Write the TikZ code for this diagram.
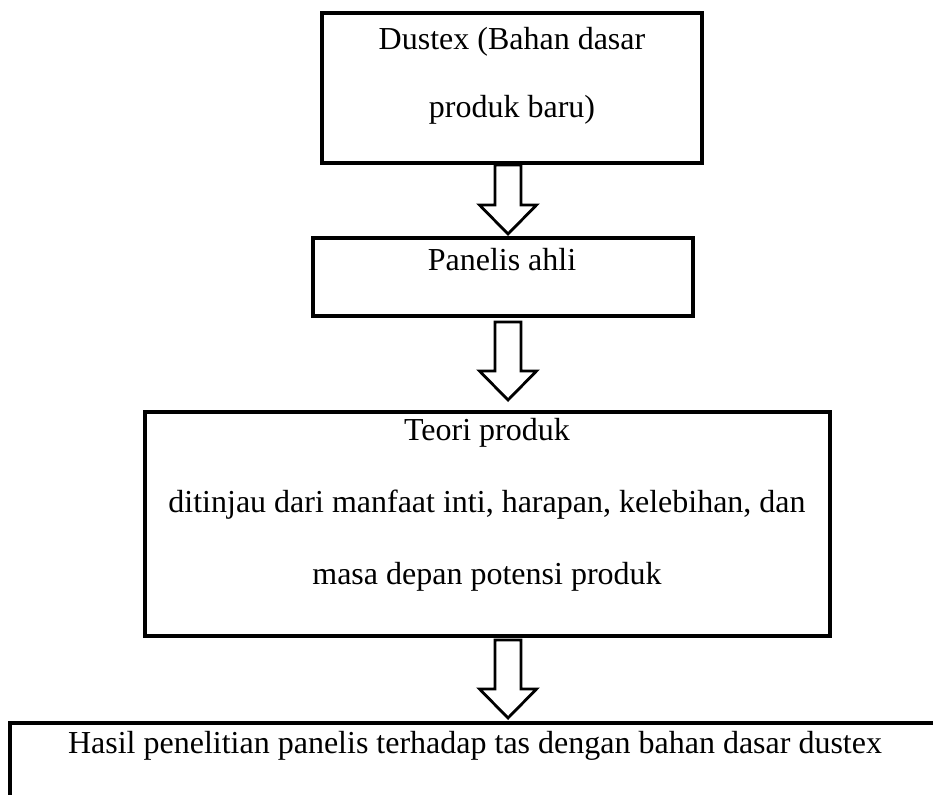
\documentclass[tikz,border=0pt]{standalone}
\usepackage{fontspec}
\setmainfont{Liberation Serif}
\usetikzlibrary{calc}

% hollow block arrow going down from a node
\newcommand{\hollowarrow}[3]{%
    \draw[arrowline] (#1.south -| axis) ++(-13,#2) -- ++(0,#3) -- ++(-15.5,0) -- ++(28.5,29) -- ++(28.5,-29) -- ++(-15.5,0) -- ++(0,-#3) -- cycle;
}

\begin{document}
\begin{tikzpicture}[x=1pt,y=-1pt,
    box/.style={draw,line width=4pt,inner sep=0pt},
    txt/.style={anchor=base,align=center,inner sep=0pt},
    arrowline/.style={line width=2.8pt,fill=white,line join=miter}]
    \path[use as bounding box,clip] (0,0) rectangle (933,794);
    \coordinate (axis) at (508,0);

    \node[box,minimum width=380pt,minimum height=150pt] (dustex) at (512,88) {};
    \node[txt,font=\fontsize{32}{68}\selectfont] (dustextxt) at (512,118) {Dustex (Bahan dasar\\produk baru)};

    \node[box,minimum width=380pt,minimum height=78pt] (panelis) at (503,277) {};
    \node[txt,font=\fontsize{32}{68}\selectfont] (panelistxt) at (502,270) {Panelis ahli};

    \node[box,minimum width=685pt,minimum height=224pt] (teori) at (487.5,524) {};
    \node[txt,font=\fontsize{32}{72}\selectfont] (teoritxt) at (487,584) {Teori produk\\ditinjau dari manfaat inti, harapan, kelebihan, dan\\masa depan potensi produk};

    \node[box,minimum width=1000pt,minimum height=200pt] (hasil) at (510,823) {};
    \node[txt,font=\fontsize{32}{68}\selectfont] (hasiltxt) at (475,753) {Hasil penelitian panelis terhadap tas dengan bahan dasar dustex};

    \hollowarrow{dustex}{0}{40}
    \hollowarrow{panelis}{4}{49}
    \hollowarrow{teori}{2}{49}
\end{tikzpicture}
\end{document}
